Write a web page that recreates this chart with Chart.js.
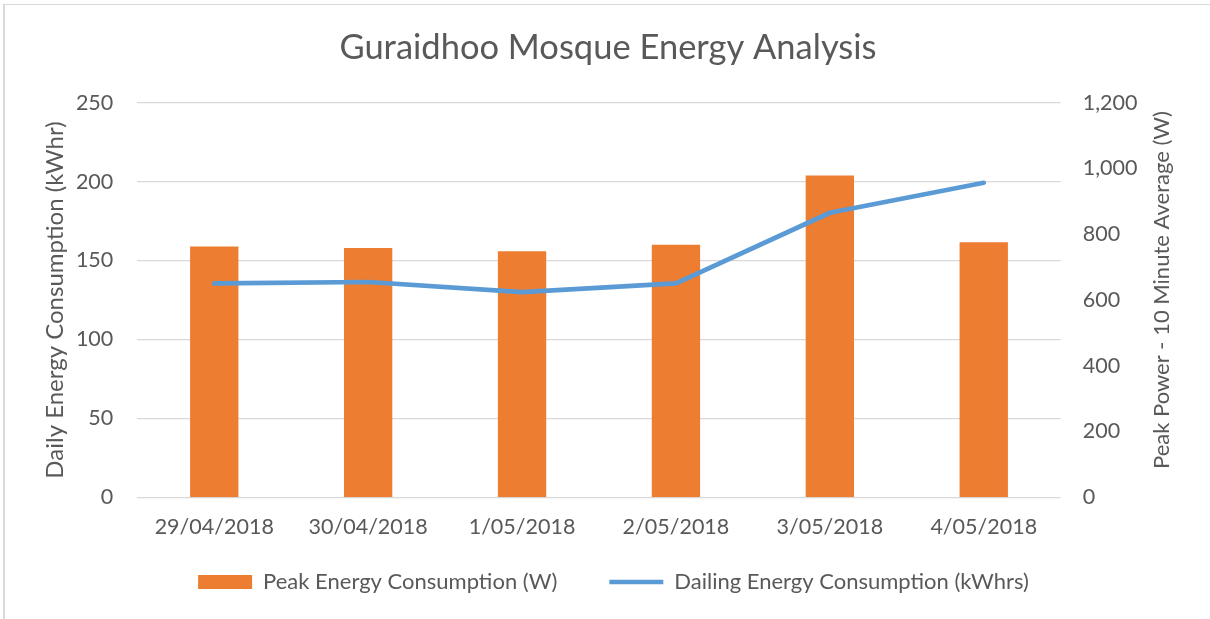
<!DOCTYPE html>
<html>
<head>
<meta charset="utf-8">
<script src="https://cdn.jsdelivr.net/npm/chart.js@4.4.1/dist/chart.umd.min.js"></script>
<style>
  html, body { margin: 0; padding: 0; background: #ffffff; }
  #wrap { width: 1210px; height: 619px; position: relative; }
</style>
</head>
<body>
<div id="wrap"><canvas id="c" width="1210" height="619"></canvas></div>
<script>
// ---- data ----
const categories = ['29/04/2018', '30/04/2018', '1/05/2018', '2/05/2018', '3/05/2018', '4/05/2018'];
const peakPowerW = [763, 758, 748, 768, 979, 776];                 // bars, right axis
const dailyEnergyKWh = [135.5, 136.4, 130.0, 135.5, 180.3, 199.3]; // line, left axis
const leftAxisRange = [0, 250, 50];    // min, max, step
const rightAxisRange = [0, 1200, 200]; // min, max, step
const titleText = 'Guraidhoo Mosque Energy Analysis';
const leftAxisTitle = 'Daily Energy Consumption (kWhr)';
const rightAxisTitle = 'Peak Power - 10 Minute Average (W)';
const barLabel = 'Peak Energy Consumption (W)';
const lineLabel = 'Dailing Energy Consumption (kWhrs)';

const FONT = 'Lato';
const TEXT = '#595959';
const GRID = '#D9D9D9';
const PAD_LEFT = 6;
const LEGEND_FONT = 22;
const LEGEND_GAP = 52;

const axisTitles = {
  id: 'axisTitles',
  afterDraw(chart) {
    const ctx = chart.ctx;
    const area = chart.chartArea;
    ctx.save();
    ctx.fillStyle = TEXT;
    ctx.textAlign = 'center';
    ctx.textBaseline = 'alphabetic';
    // left
    ctx.font = '24px ' + FONT;
    ctx.save();
    ctx.translate(63, (area.top + area.bottom) / 2);
    ctx.rotate(-Math.PI / 2);
    ctx.fillText(leftAxisTitle, 0, 0);
    ctx.restore();
    // right
    ctx.font = '22px ' + FONT;
    ctx.save();
    ctx.translate(1169, 290);
    ctx.rotate(-Math.PI / 2);
    ctx.fillText(rightAxisTitle, 0, 0);
    ctx.restore();
    ctx.restore();
  }
};

const legendShift = {
  id: 'legendShift',
  afterLayout(chart) {
    if (chart.legend) {
      chart.legend.left += 5.5;
      chart.legend.right += 5.5;
    }
  }
};

const frame = {
  id: 'frame',
  beforeDraw(chart) {
    const ctx = chart.ctx;
    ctx.save();
    ctx.fillStyle = '#ffffff';
    ctx.fillRect(0, 0, chart.width, chart.height);
    ctx.strokeStyle = GRID;
    ctx.lineWidth = 1;
    ctx.beginPath();
    ctx.moveTo(4, 4.5);
    ctx.lineTo(chart.width, 4.5);
    ctx.stroke();
    ctx.lineWidth = 2;
    ctx.beginPath();
    ctx.moveTo(4, 4);
    ctx.lineTo(4, chart.height);
    ctx.stroke();
    ctx.restore();
  }
};

// legend centre y = legend.top + LEGEND_GAP + LEGEND_FONT/2 = 582
const legendTop = 582 - LEGEND_GAP - LEGEND_FONT / 2;
const legendHeight = Math.max(LEGEND_FONT, 14) + LEGEND_GAP + 10;

new Chart(document.getElementById('c'), {
  type: 'bar',
  data: {
    labels: categories,
    datasets: [
      {
        type: 'bar',
        label: barLabel,
        data: peakPowerW,
        yAxisID: 'y1',
        backgroundColor: '#ED7D31',
        borderWidth: 0,
        categoryPercentage: 1.0,
        barPercentage: 0.314,
        order: 1,
        pointStyle: 'rect'
      },
      {
        type: 'line',
        label: lineLabel,
        data: dailyEnergyKWh,
        yAxisID: 'y',
        borderColor: '#5B9BD5',
        backgroundColor: '#5B9BD5',
        borderWidth: 4.7,
        borderCapStyle: 'round',
        borderJoinStyle: 'round',
        pointRadius: 0,
        pointHoverRadius: 0,
        tension: 0,
        fill: false,
        order: 0,
        pointStyle: 'line'
      }
    ]
  },
  options: {
    responsive: false,
    animation: false,
    events: [],
    layout: { padding: { top: 0, left: PAD_LEFT, right: 0, bottom: 619 - legendTop - legendHeight } },
    plugins: {
      tooltip: { enabled: false },
      title: {
        display: true,
        text: titleText,
        color: TEXT,
        font: { family: FONT, size: 34.5, weight: 'normal', lineHeight: 1.2 },
        padding: { top: 27.3, bottom: 34.1 }
      },
      legend: {
        display: true,
        position: 'bottom',
        labels: {
          usePointStyle: true,
          pointStyleWidth: 54,
          boxHeight: 14,
          padding: LEGEND_GAP,
          color: TEXT,
          font: { family: FONT, size: LEGEND_FONT },
          sort: (a, b) => a.datasetIndex - b.datasetIndex
        }
      }
    },
    scales: {
      x: {
        offset: true,
        grid: { display: false, drawTicks: false },
        border: { display: false },
        ticks: {
          color: TEXT,
          font: { family: FONT, size: 21.5 },
          padding: 17,
          maxRotation: 0,
          autoSkip: false
        },
        afterFit(scale) {
          scale.height = legendTop - 497.2;
          // let the tick labels draw below the (short) axis box
          scale._computeLabelArea = function () { return undefined; };
        }
      },
      y: {
        position: 'left',
        min: leftAxisRange[0],
        max: leftAxisRange[1],
        grid: { color: GRID, lineWidth: 1.3, drawTicks: false },
        border: { display: false },
        ticks: {
          stepSize: leftAxisRange[2],
          color: TEXT,
          font: { family: FONT, size: 21.5 },
          padding: 24
        },
        afterFit(scale) { scale.width = 137.3 - PAD_LEFT; }
      },
      y1: {
        position: 'right',
        min: rightAxisRange[0],
        max: rightAxisRange[1],
        grid: { display: false, drawTicks: false },
        border: { display: false },
        ticks: {
          stepSize: rightAxisRange[2],
          color: TEXT,
          font: { family: FONT, size: 21.5 },
          padding: 22,
          callback: (v) => v.toLocaleString('en-US')
        },
        afterFit(scale) { scale.width = 149.3; }
      }
    }
  },
  plugins: [frame, legendShift, axisTitles]
});
</script>
</body>
</html>
